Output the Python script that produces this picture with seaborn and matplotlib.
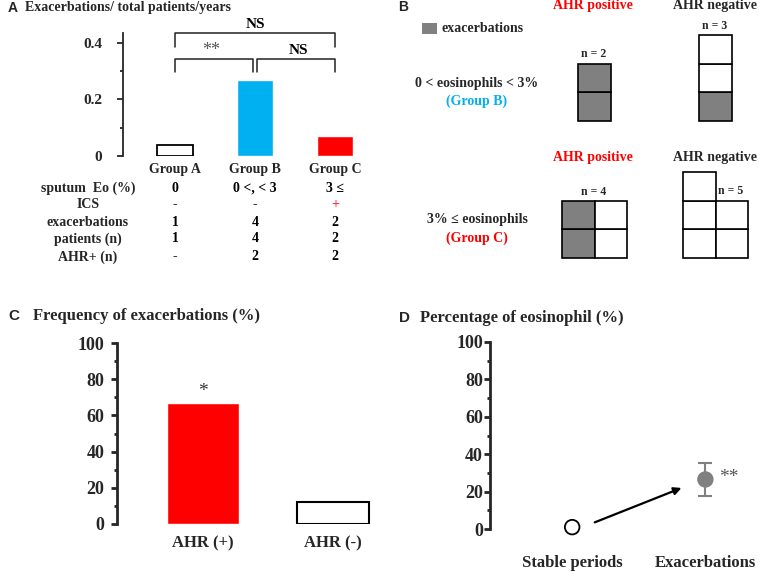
"""
Exacerbations, AHR and sputum eosinophils - four panel figure
"""
import numpy as np
import matplotlib
matplotlib.use("Agg")
import matplotlib.pyplot as plt
from matplotlib.patches import Rectangle
from matplotlib.ticker import MultipleLocator, FuncFormatter
from matplotlib.transforms import blended_transform_factory
import seaborn as sns

# ---- data -------------------------------------------------------------
# panel A
groups = ['Group A', 'Group B', 'Group C']
exac_rate = [0.04, 0.27, 0.07]
group_colors = ['white', '#00B0F0', '#FF0000']
row_labels = ['sputum  Eo (%)', 'ICS', 'exacerbations', 'patients (n)', 'AHR+ (n)']
row_eo = ['0', '0 <, < 3', '3 \u2264']
row_ics = ['-', '-', '+']
row_exac = ['1', '4', '2']
row_patients = ['1', '4', '2']
row_ahr = ['-', '2', '2']

# panel B: exacerbation flag per patient, one list per column (bottom-up)
cells_b_pos = [[1, 1]]
cells_b_neg = [[1, 0, 0]]
cells_c_pos = [[1, 1], [0, 0]]
cells_c_neg = [[0, 0, 0], [0, 0]]

# panel C
ahr_groups = ['AHR (+)', 'AHR (-)']
ahr_freq = [66.7, 12.0]
ahr_colors = ['#FF0000', 'white']

# panel D
phases = ['Stable periods', 'Exacerbations']
eos_mean = [1.0, 26.5]
eos_err = [0.0, 9.0]

# ---- figure -----------------------------------------------------------
W, H = 762, 571
sns.set_style("ticks")
plt.rcParams['font.family'] = ['Liberation Serif', 'DejaVu Serif']
plt.rcParams['font.weight'] = 'bold'
fig = plt.figure(figsize=(W / 100, H / 100), dpi=100)


def px_axes(left, top, right, bottom):
    return fig.add_axes([left / W, 1 - bottom / H, (right - left) / W, (bottom - top) / H])


def fy(py):
    return 1 - py / H


def style_axis(ax, lw, fs, major, minor, pad):
    sns.despine(ax=ax, bottom=True)
    ax.spines['left'].set_linewidth(lw)
    ax.yaxis.set_major_locator(MultipleLocator(major))
    ax.yaxis.set_minor_locator(MultipleLocator(minor))
    ax.yaxis.set_major_formatter(FuncFormatter(lambda v, _: '0' if abs(v) < 1e-9 else f'{v:g}'))
    ax.tick_params(axis='y', which='major', length=4, width=lw, labelsize=fs, pad=pad)
    ax.tick_params(axis='y', which='minor', length=2.5, width=lw)
    ax.tick_params(axis='x', length=0)
    ax.set_xlabel('')
    ax.set_ylabel('')
    ax.patch.set_alpha(0)


sans = ['Liberation Sans', 'DejaVu Sans']

# ---- panel A ----------------------------------------------------------
axA = px_axes(123, 33, 375, 156)
sns.barplot(x=groups, y=exac_rate, hue=groups, palette=group_colors, legend=False,
            saturation=1, width=0.46, ax=axA)
for p, c in zip(axA.patches, group_colors):
    if c == 'white':
        p.set_edgecolor('black')
        p.set_linewidth(1.3)
axA.set_xlim(-0.65, 2.5)
axA.set_ylim(0, 0.435)
style_axis(axA, 1.3, 11, 0.2, 0.1, pad=11)
axA.tick_params(axis='x', labelsize=10, pad=5)


# significance brackets
def bracket(ax, x0, x1, y, leg, label, dx=0.0):
    ax.plot([x0, x0, x1, x1], [y - leg, y, y, y - leg], color='#222222', lw=1.1, clip_on=False)
    star = '*' in label
    ax.text((x0 + x1) / 2 + dx, y + (0.0 if star else 0.008), label, ha='center', va='bottom',
            fontsize=13 if star else 11, weight='normal' if star else 'bold',
            color='#555555' if star else 'black')

bracket(axA, 0, 2, 0.435, 0.05, 'NS')
bracket(axA, 0, 0.97, 0.343, 0.046, '**', dx=-0.03)
bracket(axA, 1.03, 2, 0.343, 0.046, 'NS', dx=0.03)

tA = blended_transform_factory(axA.transData, fig.transFigure)
rows = [row_eo, row_ics, row_exac, row_patients, row_ahr]
row_y = [187, 204, 221, 238, 256]
for lab, vals, ry in zip(row_labels, rows, row_y):
    fig.text(88 / W, fy(ry + 4.5), lab, ha='center', va='baseline', fontsize=10)
    for i, v in enumerate(vals):
        col = '#FF0000' if (lab == 'ICS' and v == '+') else 'black'
        axA.text(i, fy(ry + 4.5), v, ha='center', va='baseline', fontsize=10, color=col,
                 weight='normal' if col != 'black' else 'bold', transform=tA)

fig.text(8 / W, fy(8), 'A', fontsize=10, weight='bold', family=sans, va='center')
fig.text(25 / W, fy(8), 'Exacerbations/ total patients/years', fontsize=10, va='center')

# ---- panel B ----------------------------------------------------------
axB = px_axes(380, 0, 762, 290)
axB.set_xlim(380, 762)
axB.set_ylim(290, 0)
axB.axis('off')
cw, ch = 32.5, 28.7
gray = '#808080'


def draw_cells(ax, x0, y0, cols):
    for ci, col in enumerate(cols):
        for ri, flag in enumerate(col):
            ax.add_patch(Rectangle((x0 + ci * cw, y0 - (ri + 1) * ch), cw, ch,
                                   facecolor=gray if flag else 'white',
                                   edgecolor='black', lw=1.2))

draw_cells(axB, 578, 121, cells_b_pos)
draw_cells(axB, 699, 121, cells_b_neg)
draw_cells(axB, 562, 258, cells_c_pos)
draw_cells(axB, 683, 258, cells_c_neg)

fig.text(398 / W, fy(7), 'B', fontsize=10, weight='bold', family=sans, va='center')
axB.add_patch(Rectangle((422, 23), 15, 11, facecolor=gray, edgecolor='none'))
axB.text(441, 29, 'exacerbations', fontsize=10, va='center')
for yy in (6, 157):
    axB.text(593, yy, 'AHR positive', color='#FF0000', fontsize=10, ha='center', va='center')
    axB.text(715, yy, 'AHR negative', fontsize=10, ha='center', va='center')
axB.text(594, 54, 'n = 2', fontsize=8.5, ha='center', va='center')
axB.text(715, 26, 'n = 3', fontsize=8.5, ha='center', va='center')
axB.text(594, 192, 'n = 4', fontsize=8.5, ha='center', va='center')
axB.text(731, 191, 'n = 5', fontsize=8.5, ha='center', va='center')
axB.text(477, 84, '0 < eosinophils < 3%', fontsize=10, ha='center', va='center')
axB.text(477, 101, '(Group B)', fontsize=10, ha='center', va='center', color='#00B0F0')
axB.text(477, 220, '3% \u2264 eosinophils', fontsize=10, ha='center', va='center')
axB.text(477, 238, '(Group C)', fontsize=10, ha='center', va='center', color='#FF0000')

# ---- panel C ----------------------------------------------------------
axC = px_axes(117, 343, 411, 524)
sns.barplot(x=ahr_groups, y=ahr_freq, hue=ahr_groups, palette=ahr_colors, legend=False,
            saturation=1, width=0.55, ax=axC)
for p, c in zip(axC.patches, ahr_colors):
    if c == 'white':
        p.set_edgecolor('black')
        p.set_linewidth(1.5)
axC.set_xlim(-0.66, 1.6)
axC.set_ylim(0, 100)
style_axis(axC, 2, 13, 20, 10, pad=5)
axC.tick_params(axis='x', labelsize=12, pad=8)
axC.text(0, ahr_freq[0] + 2, '*', ha='center', va='bottom', fontsize=14,
         weight='normal', color='#333333')
fig.text(8 / W, fy(316), 'C', fontsize=11, weight='bold', family=sans, va='center')
fig.text(33 / W, fy(316), 'Frequency of exacerbations (%)', fontsize=12, va='center')

# ---- panel D ----------------------------------------------------------
axD = px_axes(490, 342, 760, 529)
axD.errorbar([1], [eos_mean[1]], yerr=[eos_err[1]], color=gray, capsize=5,
             lw=1.5, capthick=1.5, zorder=2)
sns.scatterplot(x=[0, 1], y=eos_mean, s=110, ax=axD, zorder=3, legend=False, clip_on=False)
pts = axD.collections[-1]
pts.set_facecolors(['white', gray])
pts.set_edgecolors(['black', gray])
pts.set_linewidths([1.3, 1.3])
axD.annotate('', xy=(1 - 0.16, eos_mean[1] - 4), xytext=(0.15, eos_mean[0] + 2),
             arrowprops=dict(arrowstyle='-|>', color='black', lw=1.6, mutation_scale=11))
axD.text(1.1, eos_mean[1] + 1, '**', ha='left', va='center', fontsize=14,
         weight='normal', color='#555555')
axD.set_xlim(-0.617, 1.41)
axD.set_ylim(0, 100)
axD.set_xticks([0, 1])
axD.set_xticklabels(phases)
style_axis(axD, 2, 13, 20, 10, pad=1)
axD.tick_params(axis='x', labelsize=12, pad=19)
fig.text(399 / W, fy(318), 'D', fontsize=11, weight='bold', family=sans, va='center')
fig.text(420 / W, fy(318), 'Percentage of eosinophil (%)', fontsize=12, va='center')

fig.savefig('out.png', dpi=100)
